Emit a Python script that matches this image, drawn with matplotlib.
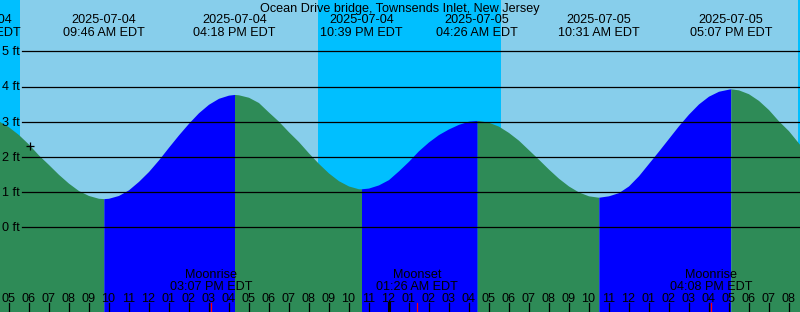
import matplotlib
matplotlib.use("Agg")
import matplotlib.pyplot as plt
import matplotlib.transforms as mtrans
import pandas as pd

plt.rcParams['font.family'] = ['Liberation Sans', 'DejaVu Sans']

title = "Ocean Drive bridge, Townsends Inlet, New Jersey"

# high / low tides (from the labels at the top)
tide_times = ["2025-07-04 03:35", "2025-07-04 09:46", "2025-07-04 16:18",
              "2025-07-04 22:39", "2025-07-05 04:26", "2025-07-05 10:31",
              "2025-07-05 17:07"]
tide_heights = [3.15, 0.82, 3.78, 1.10, 3.04, 0.86, 3.94]

# water level, every half hour from 2025-07-04 04:00
level_start = "2025-07-04 04:00"
level_halfhourly = [3.12, 3.03, 2.86, 2.64, 2.37, 2.06, 1.79, 1.51, 1.26, 1.05,
                    0.91, 0.83, 0.83, 0.91, 1.07, 1.31, 1.59, 1.92, 2.28, 2.63,
                    2.96, 3.26, 3.50, 3.67, 3.76, 3.77, 3.70, 3.55, 3.28, 3.02,
                    2.72, 2.44, 2.12, 1.82, 1.55, 1.33, 1.18, 1.10, 1.12, 1.21,
                    1.36, 1.61, 1.88, 2.18, 2.43, 2.64, 2.80, 2.93, 3.02, 3.04,
                    2.99, 2.88, 2.70, 2.48, 2.21, 1.94, 1.66, 1.40, 1.18, 1.01,
                    0.90, 0.86, 0.90, 0.99, 1.18, 1.47, 1.82, 2.17, 2.53, 2.89,
                    3.22, 3.51, 3.73, 3.87, 3.93, 3.91, 3.80, 3.61, 3.35, 3.03,
                    2.75, 2.40, 2.05]

sunrise = ["2025-07-04 05:36", "2025-07-05 05:37"]
sunset = ["2025-07-04 20:28", "2025-07-05 20:28"]

moon_events = ["Moonrise", "Moonset", "Moonrise"]
moon_times = ["2025-07-04 15:07", "2025-07-05 01:26", "2025-07-05 16:08"]

now_time = "2025-07-04 06:05"
now_height = 2.32

y_levels = [0, 1, 2, 3, 4, 5]

NIGHT = "#00BFFF"
DAY = "#87CEEB"
RISING = "#0000FF"
FALLING = "#2E8B57"

base = pd.Timestamp("2025-07-04")


def hrs(s):
    return (pd.Timestamp(s) - base) / pd.Timedelta(hours=1)


t0 = hrs(level_start)
lvl_t = [t0 + 0.5 * i for i in range(len(level_halfhourly))]
ext_t = [hrs(s) for s in tide_times]

# merge the readings with the extremes
pts = sorted(list(zip(lvl_t, level_halfhourly)) + list(zip(ext_t, tide_heights)))

fig = plt.figure(figsize=(8, 3.12), dpi=100)
ax = fig.add_axes([0, 0, 1, 1])
x0, x1 = 4.575, 44.575
ybot, ytop = -2.4006, 6.463
ax.set_xlim(x0, x1)
ax.set_ylim(ybot, ytop)
ax.axis('off')

# sky: day / night
ax.axvspan(x0, x1, color=DAY, lw=0)
ax.axvspan(x0, hrs(sunrise[0]), color=NIGHT, lw=0)
ax.axvspan(hrs(sunset[0]), hrs(sunrise[1]), color=NIGHT, lw=0)
ax.axvspan(hrs(sunset[1]), x1, color=NIGHT, lw=0)

# water, coloured by rising / falling
bounds = ext_t + [pts[-1][0]]
hb = tide_heights + [pts[-1][1]]
for k in range(len(bounds) - 1):
    seg = [p for p in pts if bounds[k] <= p[0] <= bounds[k + 1]]
    col = RISING if hb[k + 1] > hb[k] else FALLING
    ax.fill_between([p[0] for p in seg], [p[1] for p in seg], ybot,
                    color=col, lw=0)

# height lines and labels
ylab = mtrans.blended_transform_factory(ax.transAxes, ax.transData)
for y in y_levels:
    ax.axhline(y, xmin=22 / 800, xmax=1, color='black', lw=0.9)
    ax.text(20 / 800, y - 3.7 / 35.2, f"{y} ft", fontsize=9.1, ha='right',
            va='baseline', transform=ylab)

mix = mtrans.blended_transform_factory(ax.transData, ax.transAxes)


def py(p):
    return 1 - p / 312


# tide labels
ax.text(0.5, py(11.7), title, fontsize=9.1, ha='center', va='baseline', transform=ax.transAxes)
for s in tide_times:
    ts = pd.Timestamp(s)
    ax.text(hrs(s), py(23.3), ts.strftime("%Y-%m-%d"), fontsize=9.1,
            ha='center', va='baseline', transform=mix, clip_on=False)
    ax.text(hrs(s), py(35.7), ts.strftime("%I:%M %p EDT"), fontsize=9.1,
            ha='center', va='baseline', transform=mix, clip_on=False)

# hour ticks along the bottom
for h in range(5, 45):
    lw = 2.2 if h % 24 == 0 else 0.9
    ax.axvline(h, ymin=0, ymax=9 / 312, color='black', lw=lw)
    hh = h % 12 or 12
    ax.text(h, py(301.7), f"{hh:02d}", fontsize=9.1, ha='center',
            va='baseline', transform=mix)

# moon events
for name, s in zip(moon_events, moon_times):
    t = hrs(s)
    ax.axvline(t, ymin=0, ymax=9 / 312, color='red', lw=0.9)
    ax.text(t, py(278.0), name, fontsize=9.1, ha='center', va='baseline', transform=mix)
    ax.text(t, py(289.5), pd.Timestamp(s).strftime("%I:%M %p EDT"), fontsize=9.1,
            ha='center', va='baseline', transform=mix)

ax.plot(hrs(now_time), now_height, marker='+', color='black', ms=6, mew=0.9)

fig.savefig("out.png", dpi=100)
